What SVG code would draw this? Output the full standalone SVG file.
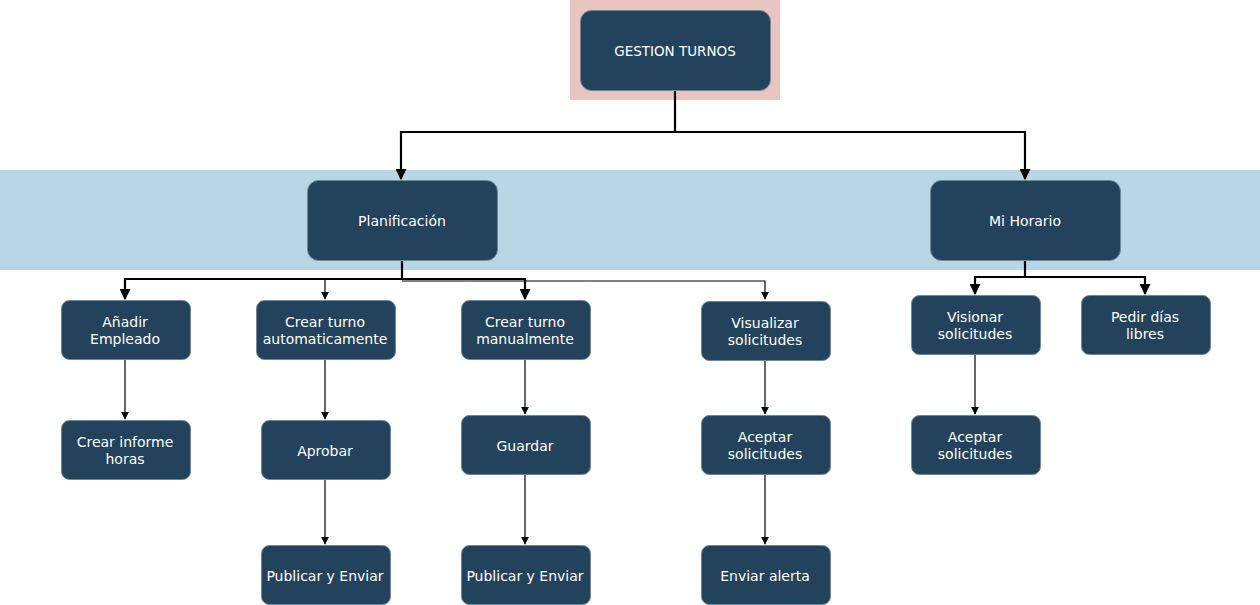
<svg xmlns="http://www.w3.org/2000/svg" width="1260" height="605" viewBox="0 0 1260 605">
<defs>
<style>
.n{fill:#23435c;stroke:#6f8798;stroke-width:1}
.t{fill:#ffffff;font-family:"DejaVu Sans",Verdana,sans-serif;font-size:14px;text-anchor:middle}
.thick{fill:none;stroke:#000;stroke-width:2.2}
.thin{fill:none;stroke:#000;stroke-width:1.2}
</style>
<marker id="ab" viewBox="0 0 10 10" refX="9" refY="5" markerWidth="6" markerHeight="6" markerUnits="userSpaceOnUse" orient="auto"><path d="M0,0 L10,5 L0,10 z" fill="#000"/></marker>
<marker id="abl" viewBox="0 0 10 10" refX="9" refY="5" markerWidth="11" markerHeight="11" markerUnits="userSpaceOnUse" orient="auto"><path d="M0,0 L10,5 L0,10 z" fill="#000"/></marker>
<marker id="abm" viewBox="0 0 10 10" refX="9" refY="5" markerWidth="8" markerHeight="8" markerUnits="userSpaceOnUse" orient="auto"><path d="M0,0 L10,5 L0,10 z" fill="#000"/></marker>
</defs>
<rect x="0" y="0" width="1260" height="605" fill="#ffffff"/>
<rect x="570" y="0" width="210" height="100" fill="#e8c5c1"/>
<rect x="0" y="170" width="1260" height="100" fill="#b8d6e3"/>

<g id="connectors">
<path class="thick" d="M675,90 V132 H401 V179" marker-end="url(#abl)"/>
<path class="thick" d="M675,132 H1025 V179" marker-end="url(#abl)"/>
<path class="thin" d="M402,281 H765 V299" marker-end="url(#abm)"/>
<path class="thin" d="M325,279 V299" marker-end="url(#abm)"/>
<path class="thick" d="M402,260 V279 H125 V299" marker-end="url(#abl)"/>
<path class="thick" d="M402,279 H525 V299" marker-end="url(#abl)"/>
<path class="thick" d="M1025,260 V277 H975 V294" marker-end="url(#abl)"/>
<path class="thick" d="M1025,277 H1145 V294" marker-end="url(#abl)"/>
<path class="thin" d="M125,360 V419" marker-end="url(#abm)"/>
<path class="thin" d="M325,360 V419" marker-end="url(#abm)"/>
<path class="thin" d="M325,480 V544" marker-end="url(#abm)"/>
<path class="thin" d="M525,360 V414" marker-end="url(#abm)"/>
<path class="thin" d="M525,475 V544" marker-end="url(#abm)"/>
<path class="thin" d="M765,361 V414" marker-end="url(#abm)"/>
<path class="thin" d="M765,475 V544" marker-end="url(#abm)"/>
<path class="thin" d="M975,355 V414" marker-end="url(#abm)"/>
</g>

<g id="gestion"><rect class="n" x="580.5" y="10.5" width="190" height="80" rx="11"/><text class="t" x="675" y="56" style="font-size:13.5px">GESTION TURNOS</text></g>
<g id="planificacion"><rect class="n" x="307.5" y="180.5" width="190" height="80" rx="11"/><text class="t" x="402" y="226">Planificación</text></g>
<g id="mihorario"><rect class="n" x="930.5" y="180.5" width="190" height="80" rx="11"/><text class="t" x="1025" y="226">Mi Horario</text></g>

<g id="anadir"><rect class="n" x="61.5" y="300.5" width="129" height="59" rx="8"/><text class="t" x="125" y="327">Añadir</text><text class="t" x="125" y="344">Empleado</text></g>
<g id="auto"><rect class="n" x="256.5" y="300.5" width="139" height="59" rx="8"/><text class="t" x="325" y="327">Crear turno</text><text class="t" x="325" y="344">automaticamente</text></g>
<g id="manual"><rect class="n" x="461.5" y="300.5" width="129" height="59" rx="8"/><text class="t" x="525" y="327">Crear turno</text><text class="t" x="525" y="344">manualmente</text></g>
<g id="visualizar"><rect class="n" x="701.5" y="301.5" width="129" height="59" rx="8"/><text class="t" x="765" y="328">Visualizar</text><text class="t" x="765" y="345">solicitudes</text></g>
<g id="visionar"><rect class="n" x="911.5" y="295.5" width="129" height="59" rx="8"/><text class="t" x="975" y="322">Visionar</text><text class="t" x="975" y="339">solicitudes</text></g>
<g id="pedir"><rect class="n" x="1081.5" y="295.5" width="129" height="59" rx="8"/><text class="t" x="1145" y="322">Pedir días</text><text class="t" x="1145" y="339">libres</text></g>

<g id="informe"><rect class="n" x="61.5" y="420.5" width="129" height="59" rx="8"/><text class="t" x="125" y="447">Crear informe</text><text class="t" x="125" y="464">horas</text></g>
<g id="aprobar"><rect class="n" x="261.5" y="420.5" width="129" height="59" rx="8"/><text class="t" x="325" y="456">Aprobar</text></g>
<g id="guardar"><rect class="n" x="461.5" y="415.5" width="129" height="59" rx="8"/><text class="t" x="525" y="451">Guardar</text></g>
<g id="aceptar1"><rect class="n" x="701.5" y="415.5" width="129" height="59" rx="8"/><text class="t" x="765" y="442">Aceptar</text><text class="t" x="765" y="459">solicitudes</text></g>
<g id="aceptar2"><rect class="n" x="911.5" y="415.5" width="129" height="59" rx="8"/><text class="t" x="975" y="442">Aceptar</text><text class="t" x="975" y="459">solicitudes</text></g>

<g id="publicar1"><rect class="n" x="261.5" y="545.5" width="129" height="59" rx="8"/><text class="t" x="325" y="581">Publicar y Enviar</text></g>
<g id="publicar2"><rect class="n" x="461.5" y="545.5" width="129" height="59" rx="8"/><text class="t" x="525" y="581">Publicar y Enviar</text></g>
<g id="alerta"><rect class="n" x="701.5" y="545.5" width="129" height="59" rx="8"/><text class="t" x="765" y="581">Enviar alerta</text></g>
</svg>
